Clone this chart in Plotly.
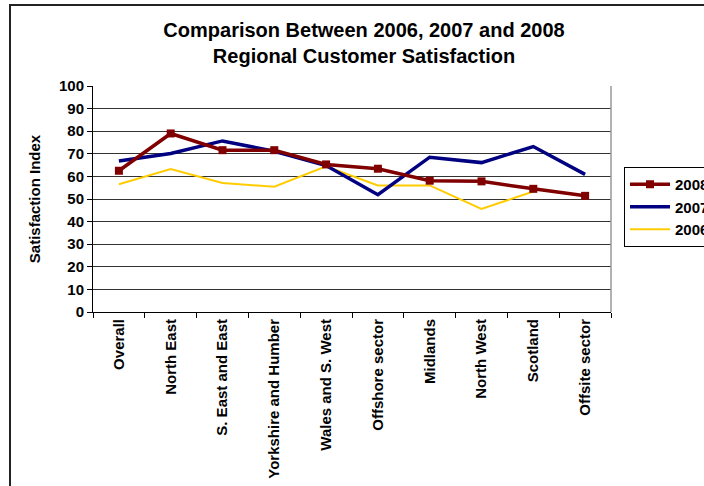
import plotly.graph_objects as go

categories = ["Overall", "North East", "S. East and East", "Yorkshire and Humber",
              "Wales and S. West", "Offshore sector", "Midlands", "North West",
              "Scotland", "Offsite sector"]
y2008 = [62.5, 79.0, 71.6, 71.6, 65.3, 63.4, 58.1, 57.8, 54.5, 51.4]
y2007 = [66.8, 70.1, 75.7, 71.1, 64.8, 51.9, 68.5, 66.1, 73.2, 60.9]
y2006 = [56.5, 63.3, 57.1, 55.4, 64.5, 56.0, 56.0, 45.6, 53.3, None]
y_ticks = [0, 10, 20, 30, 40, 50, 60, 70, 80, 90, 100]

FONT = "Liberation Sans, Arial, sans-serif"
W, H = 704, 486
L, R, T, B = 93, 611, 86, 312

fig = go.Figure()
fig.add_trace(go.Scatter(x=categories, y=y2006, name="2006", mode="lines",
                         line=dict(color="#FFCC00", width=2), connectgaps=False))
fig.add_trace(go.Scatter(x=categories, y=y2007, name="2007", mode="lines",
                         line=dict(color="#000080", width=3.5)))
fig.add_trace(go.Scatter(x=categories, y=y2008, name="2008", mode="lines+markers",
                         line=dict(color="#800000", width=3.5),
                         marker=dict(symbol="square", size=8, color="#800000")))

def px_x(px):
    return (px - L) / (R - L)

def px_y(py):
    return (B - py) / (B - T)

# outer chart border
fig.add_shape(type="rect", xref="paper", yref="paper",
              x0=px_x(10), x1=px_x(730), y0=px_y(510), y1=px_y(5),
              line=dict(color="#222222", width=2), fillcolor="rgba(0,0,0,0)", layer="below")
# plot area right border
fig.add_shape(type="line", xref="paper", yref="paper", x0=1, x1=1, y0=0, y1=1,
              line=dict(color="#999999", width=1.5))

fig.update_layout(
    width=W, height=H,
    margin=dict(l=L, r=W - R, t=T, b=H - B, autoexpand=False),
    paper_bgcolor="white", plot_bgcolor="white",
    font=dict(family=FONT, color="black"),
    title=dict(text="Comparison Between 2006, 2007 and 2008<br>Regional Customer Satisfaction",
               x=364 / W, xanchor="center", y=1 - 37 / H, yanchor="top",
               font=dict(size=20, family=FONT, weight="bold")),
    showlegend=True,
    legend=dict(x=px_x(624), xanchor="left", y=px_y(167), yanchor="top",
                traceorder="reversed", bordercolor="black", borderwidth=1,
                bgcolor="white", font=dict(size=15, family=FONT, weight="bold"),
                itemwidth=40, tracegroupgap=0),
)
fig.update_xaxes(type="category", categoryorder="array", categoryarray=categories,
                 range=[-0.5, 9.5], tickangle=-90,
                 tickfont=dict(size=15, family=FONT, weight="bold"),
                 ticks="outside", tickson="boundaries", ticklen=5, tickcolor="black",
                 showline=True, linecolor="black", linewidth=1, showgrid=False)
fig.update_yaxes(range=[0, 100], tickvals=y_ticks, ticks="outside", ticklen=5,
                 tickcolor="black", showline=True, linecolor="black", linewidth=1,
                 showgrid=True, gridcolor="#333333", gridwidth=1,
                 tickfont=dict(size=15, family=FONT, weight="bold"),
                 title=dict(text="Satisfaction Index",
                            font=dict(size=15, family=FONT, weight="bold"),
                            standoff=14),
                 zeroline=False)

fig.write_html("out.html")
